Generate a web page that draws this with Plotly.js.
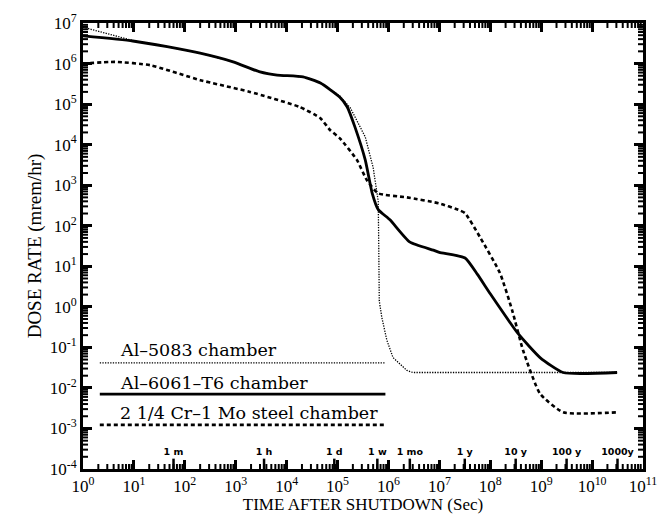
<!DOCTYPE html>
<html>
<head>
<meta charset="utf-8">
<script src="https://cdn.plot.ly/plotly-3.0.1.min.js"></script>
<style>html,body{margin:0;padding:0;background:#fff;}#chart{width:666px;height:514px;}</style>
</head>
<body>
<div id="chart"></div>
<script>
// Al-6061-T6 chamber (solid)
const al6061X = [1, 9.5, 45, 200, 890, 3000, 6500, 2.1e4, 4.6e4, 1.1e5, 1.55e5, 2.2e5, 3.5e5, 4.8e5, 6.3e5, 1.07e6, 2.6e6, 7.6e6, 1.0e7, 3.2e7, 5.6e7, 1e8, 3.5e8, 9.5e8, 2.7e9, 3.1e10];
const al6061Y = [4.8e6, 3.6e6, 2.6e6, 1.8e6, 1.1e6, 6.2e5, 5.2e5, 4.7e5, 3.3e5, 1.5e5, 8.5e4, 2.7e4, 4.2e3, 630, 250, 140, 40, 25, 22, 16, 6.3, 2.1, 0.22, 0.056, 0.024, 0.024];

// Al-5083 chamber (dotted)
const al5083X = [1, 9.5, 45, 200, 890, 3000, 6500, 2.1e4, 4.6e4, 1.1e5, 1.8e5, 3.5e5, 5.0e5, 6.0e5, 6.3e5, 6.45e5, 6.6e5, 7.4e5, 9.3e5, 1.23e6, 2.3e6, 3.0e6, 3.1e10];
const al5083Y = [7.9e6, 3.7e6, 2.6e6, 1.8e6, 1.1e6, 6.2e5, 5.2e5, 4.7e5, 3.4e5, 1.6e5, 7.9e4, 1.55e4, 2.75e3, 630, 400, 30, 1.4, 0.55, 0.15, 0.056, 0.027, 0.024, 0.024];

// 2 1/4 Cr-1 Mo steel chamber (dashed)
const steelX = [1, 4.3, 21, 200, 1900, 1.8e4, 4.6e4, 7.1e4, 1.1e5, 2.4e5, 3.8e5, 6.3e5, 2.3e6, 1.0e7, 2.5e7, 3.2e7, 6.3e7, 1.55e8, 2.7e8, 4.4e8, 9.5e8, 2.7e9, 3.1e10];
const steelY = [1.0e6, 1.1e6, 9.1e5, 3.9e5, 2.0e5, 8.5e4, 4.5e4, 2.3e4, 1.45e4, 4.2e3, 1.3e3, 630, 500, 355, 240, 205, 52, 6.8, 0.81, 0.085, 7.2e-3, 2.5e-3, 2.5e-3];

// time markers
const markerTimes = [60, 3600, 86400, 604800, 2.63e6, 3.156e7, 3.156e8, 3.156e9, 3.156e10];
const markerLabels = ['1 m', '1 h', '1 d', '1 w', '1 mo', '1 y', '10 y', '100 y', '1000y'];

// axis ticks
const xTickVals = [1, 1e1, 1e2, 1e3, 1e4, 1e5, 1e6, 1e7, 1e8, 1e9, 1e10, 1e11];
const xTickText = ['10<sup>0</sup>', '10<sup>1</sup>', '10<sup>2</sup>', '10<sup>3</sup>', '10<sup>4</sup>', '10<sup>5</sup>', '10<sup>6</sup>', '10<sup>7</sup>', '10<sup>8</sup>', '10<sup>9</sup>', '10<sup>10</sup>', '10<sup>11</sup>'];
const yTickVals = [1e-4, 1e-3, 1e-2, 1e-1, 1, 1e1, 1e2, 1e3, 1e4, 1e5, 1e6, 1e7];
const yTickText = ['10<sup>-4</sup>', '10<sup>-3</sup>', '10<sup>-2</sup>', '10<sup>-1</sup>', '10<sup>0</sup>', '10<sup>1</sup>', '10<sup>2</sup>', '10<sup>3</sup>', '10<sup>4</sup>', '10<sup>5</sup>', '10<sup>6</sup>', '10<sup>7</sup>'];
const minorDigits = [2, 3, 4, 5, 6, 7, 8, 9];

const legendNames = ['Al–5083 chamber', 'Al–6061–T6 chamber', '2 1/4 Cr–1 Mo steel chamber'];

function minorVals(majors) {
  const out = [];
  majors.slice(0, -1).forEach(m => minorDigits.forEach(d => out.push(m * d)));
  return out;
}

// minor tick marks drawn as shapes on all four sides (inside)
const PLOT_W = 560, PLOT_H = 446;
const tickShapes = [];
function addXTicks(vals, len, w) {
  vals.forEach(v => {
    tickShapes.push({type: 'line', xref: 'x', yref: 'paper', x0: v, x1: v, y0: 0, y1: len / PLOT_H, line: {color: '#000', width: w}});
    tickShapes.push({type: 'line', xref: 'x', yref: 'paper', x0: v, x1: v, y0: 1, y1: 1 - len / PLOT_H, line: {color: '#000', width: w}});
  });
}
function addYTicks(vals, len, w) {
  vals.forEach(v => {
    tickShapes.push({type: 'line', xref: 'paper', yref: 'y', x0: 0, x1: len / PLOT_W, y0: v, y1: v, line: {color: '#000', width: w}});
    tickShapes.push({type: 'line', xref: 'paper', yref: 'y', x0: 1, x1: 1 - len / PLOT_W, y0: v, y1: v, line: {color: '#000', width: w}});
  });
}
addXTicks(minorVals(xTickVals), 5, 2);
addYTicks(minorVals(yTickVals), 5, 2);

const mkX = [], mkY = [];
markerTimes.forEach(t => { mkX.push(t, t, null); mkY.push(1e-4, 1.8e-4, null); });

const traces = [
  {x: al5083X, y: al5083Y, mode: 'lines', line: {color: '#000', width: 1.3, dash: '1.3px,1.3px'}, hoverinfo: 'none'},
  {x: steelX, y: steelY, mode: 'lines', line: {color: '#000', width: 2.6, dash: '4px,3px', shape: 'spline', smoothing: 0.5}, hoverinfo: 'none'},
  {x: al6061X, y: al6061Y, mode: 'lines', line: {color: '#000', width: 2.8, shape: 'spline', smoothing: 0.5}, hoverinfo: 'none'},
  {x: mkX, y: mkY, mode: 'lines', line: {color: '#000', width: 2.5}, hoverinfo: 'none'},
  {x: markerTimes, y: markerTimes.map(() => 2.6e-4), mode: 'text', text: markerLabels,
   textfont: {family: 'DejaVu Sans', size: 9.5, color: '#000', weight: 'bold'}, textposition: 'middle center', hoverinfo: 'none'}
];

const fontSerif = 'Liberation Serif, Times New Roman, serif';
const axisCommon = {
  type: 'log', showgrid: false, zeroline: false,
  showline: true, linecolor: '#000', linewidth: 3, mirror: 'allticks',
  ticks: 'inside', ticklen: 9, tickwidth: 3, tickcolor: '#000',
  tickmode: 'array',
  tickfont: {family: fontSerif, size: 17, color: '#000'}
};

const legendShapes = [
  {type: 'line', xref: 'paper', yref: 'paper', x0: 0.03, x1: 0.54, y0: 0.238, y1: 0.238, line: {color: '#000', width: 1.3, dash: '1.3px,1.3px'}},
  {type: 'line', xref: 'paper', yref: 'paper', x0: 0.03, x1: 0.54, y0: 0.168, y1: 0.168, line: {color: '#000', width: 2.8}},
  {type: 'line', xref: 'paper', yref: 'paper', x0: 0.03, x1: 0.54, y0: 0.099, y1: 0.099, line: {color: '#000', width: 2.6, dash: '4px,3px'}}
];

const layout = {
  width: 666, height: 514,
  margin: {l: 83, r: 23, t: 23, b: 45},
  paper_bgcolor: '#fff', plot_bgcolor: '#fff',
  showlegend: false,
  xaxis: Object.assign({}, axisCommon, {
    range: [0, 11], tickvals: xTickVals, ticktext: xTickText,
    title: {text: 'TIME AFTER SHUTDOWN (Sec)', font: {family: fontSerif, size: 17, color: '#000'}, standoff: 3}
  }),
  yaxis: Object.assign({}, axisCommon, {
    range: [-4, 7], tickvals: yTickVals, ticktext: yTickText,
    title: {text: 'DOSE RATE (mrem/hr)', font: {family: fontSerif, size: 19, color: '#000'}, standoff: 4}
  }),
  shapes: legendShapes.concat(tickShapes),
  annotations: [
    {xref: 'paper', yref: 'paper', x: 0.062, y: 0.267, xanchor: 'left', yanchor: 'middle', showarrow: false, text: legendNames[0], font: {family: 'DejaVu Serif', size: 17.5, color: '#000'}},
    {xref: 'paper', yref: 'paper', x: 0.062, y: 0.193, xanchor: 'left', yanchor: 'middle', showarrow: false, text: legendNames[1], font: {family: 'DejaVu Serif', size: 17.5, color: '#000'}},
    {xref: 'paper', yref: 'paper', x: 0.062, y: 0.126, xanchor: 'left', yanchor: 'middle', showarrow: false, text: legendNames[2], font: {family: 'DejaVu Serif', size: 17.5, color: '#000'}}
  ]
};

Plotly.newPlot('chart', traces, layout, {displayModeBar: false, staticPlot: true});
</script>
</body>
</html>
